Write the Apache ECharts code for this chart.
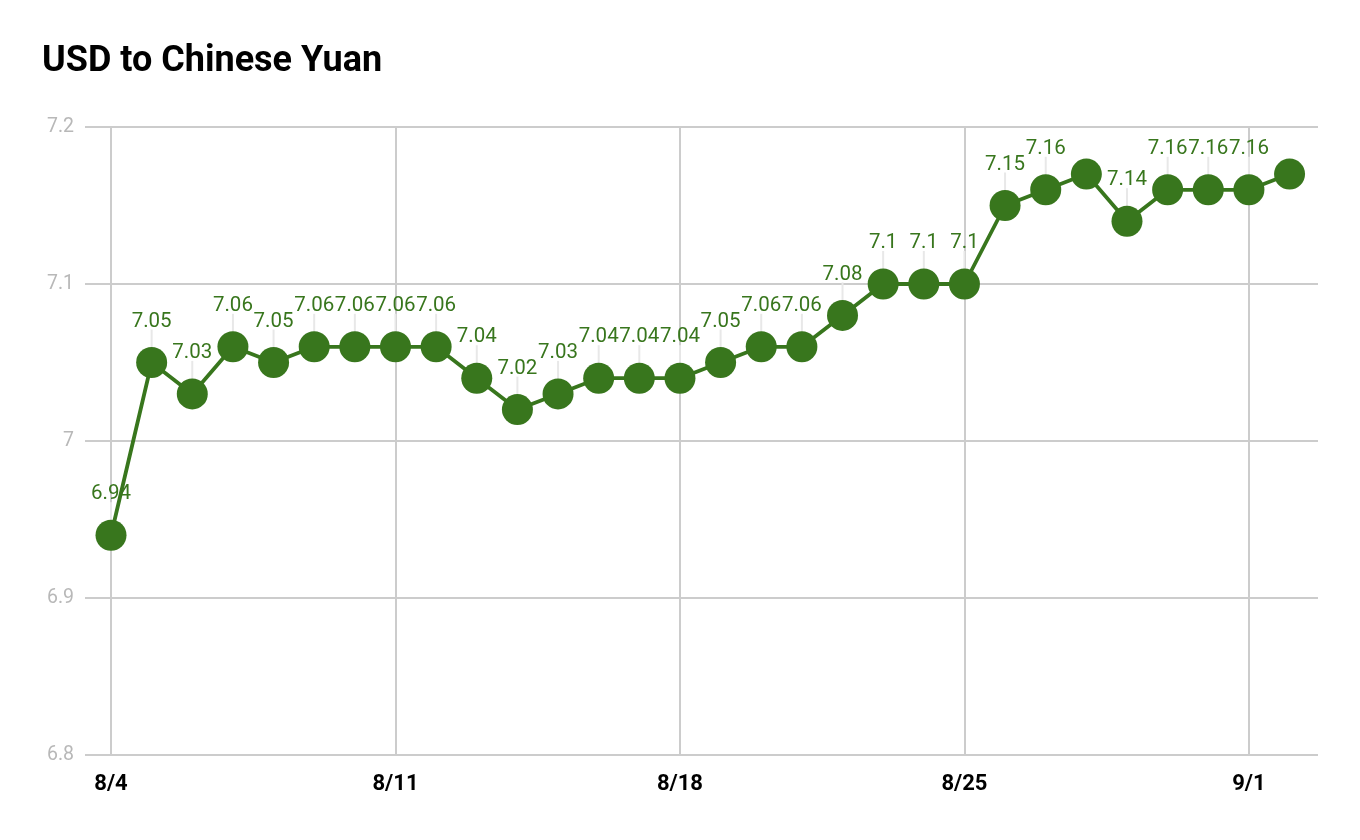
<!DOCTYPE html>
<html>
<head>
<meta charset="utf-8">
<script src="https://cdn.jsdelivr.net/npm/echarts@6/dist/echarts.min.js"></script>
<style>
html,body{margin:0;padding:0;background:#fff;}
#chart{width:1360px;height:840px;}
</style>
</head>
<body>
<div id="chart"></div>
<script>
// Dates (one per day, starting 8/4)
const dates = ['8/4','8/5','8/6','8/7','8/8','8/9','8/10','8/11','8/12','8/13','8/14','8/15','8/16','8/17','8/18','8/19','8/20','8/21','8/22','8/23','8/24','8/25','8/26','8/27','8/28','8/29','8/30','8/31','9/1','9/2'];
// USD -> CNY rate
const rates = [6.94,7.05,7.03,7.06,7.05,7.06,7.06,7.06,7.06,7.04,7.02,7.03,7.04,7.04,7.04,7.05,7.06,7.06,7.08,7.1,7.1,7.1,7.15,7.16,7.17,7.14,7.16,7.16,7.16,7.17];
// Whether a value label is shown for each point
const labelShown = [1,1,1,1,1,1,1,1,1,1,1,1,1,1,1,1,1,1,1,1,1,1,1,1,0,1,1,1,1,0];
// X tick dates
const xTicks = ['8/4','8/11','8/18','8/25','9/1'];
const yTicks = [6.8,6.9,7.0,7.1,7.2];

const green = '#38761d';
const data = rates.map((v,i)=>({value:[i,v], label:{show: !!labelShown[i]}}));
const leaderData = rates.map((v,i)=>[i,v]).filter((d,i)=>labelShown[i]);
const tickIdx = xTicks.map(t=>dates.indexOf(t));

const chart = echarts.init(document.getElementById('chart'), null, {renderer:'canvas'});
chart.setOption({
  animation:false,
  backgroundColor:'#fff',
  textStyle:{fontFamily:'Roboto'},
  title:{
    text:'USD to Chinese Yuan',
    left:37, top:39,
    textStyle:{fontFamily:'Roboto', fontWeight:'bold', fontSize:36, color:'#000'}
  },
  grid:{left:85, right:42, top:127, bottom:85},
  xAxis:{
    type:'value',
    min:-0.64, max:29.7,
    axisLine:{show:false},
    axisTick:{show:false, customValues:tickIdx},
    axisLabel:{
      customValues:tickIdx,
      formatter:(v)=>dates[Math.round(v)],
      color:'#000', fontWeight:'bold', fontSize:22, fontFamily:'Roboto', margin:18
    },
    splitLine:{show:true, lineStyle:{color:'#cccccc', width:2}}
  },
  yAxis:{
    type:'value',
    min:yTicks[0], max:yTicks[yTicks.length-1], interval:0.1,
    axisLine:{show:false},
    axisTick:{show:false},
    axisLabel:{color:'#b8b8b8', fontSize:19.5, fontFamily:'Roboto', margin:11,
      formatter:(v)=>String(Math.round(v*10)/10)},
    splitLine:{show:true, lineStyle:{color:'#cccccc', width:2}}
  },
  series:[
    {
      type:'custom',
      z:1,
      silent:true,
      data:leaderData,
      renderItem:(params, api)=>{
        const p = api.coord([api.value(0), api.value(1)]);
        return {type:'line', shape:{x1:p[0], y1:p[1]-33, x2:p[0], y2:p[1]},
          style:{stroke:'#e8e8e8', lineWidth:2}};
      }
    },
    {
      type:'line',
      z:3,
      data:data,
      symbol:'circle',
      symbolSize:31,
      showAllSymbol:true,
      itemStyle:{color:green},
      lineStyle:{color:green, width:3.8},
      label:{
        show:true, position:'top', distance:15,
        color:green, fontSize:20.5, fontFamily:'Roboto',
        formatter:(p)=>String(p.value[1])
      }
    }
  ]
});
</script>
</body>
</html>
